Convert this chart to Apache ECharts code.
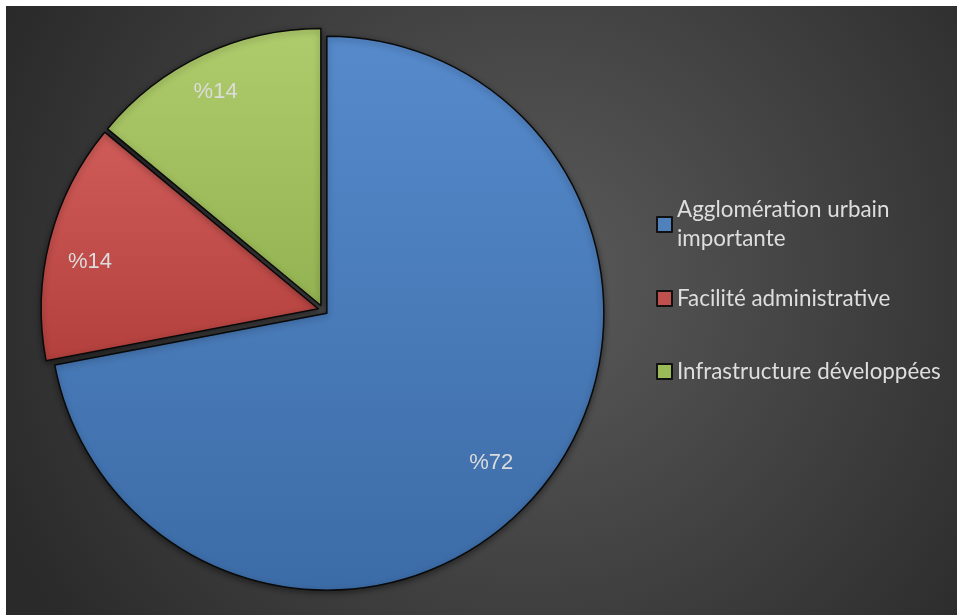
<!DOCTYPE html>
<html style="height: 100%">
<head>
    <meta charset="utf-8">
</head>
<body style="height: 100%; margin: 0; background-color: #fff;">
<div id="container" style="position: absolute; left: 6px; top: 6px; width: 951px; height: 609px;"></div>
<script type="text/javascript" src="https://cdn.jsdelivr.net/npm/echarts@6/dist/echarts.min.js"></script>
<script type="text/javascript">
var categories = ['Agglomération urbain\nimportante', 'Facilité administrative', 'Infrastructure développées'];
var shares = [72, 14, 14];

var sliceColors = [
    ['#568acb', '#3c6ca7'],
    ['#d05c59', '#b3403d'],
    ['#afcc6c', '#93b251']
];
var legendIcons = ['#4f81bd', '#c0504d', '#9bbb59'];
// nudges so each percent sits where the original put it
var labelPads = [[0, 34, 0, 0], [24, 0, 0, 0], [0, 10, 16, 0]];

var chart = echarts.init(document.getElementById('container'));

var slices = [];
var labelSlices = [];
for (var i = 0; i < categories.length; i++) {
    slices.push({
        name: categories[i],
        value: shares[i],
        selected: true,
        itemStyle: {
            color: {
                type: 'linear', x: 0, y: 0, x2: 0, y2: 1,
                colorStops: [
                    { offset: 0, color: sliceColors[i][0] },
                    { offset: 1, color: sliceColors[i][1] }
                ]
            }
        }
    });
    var lbl = { padding: labelPads[i] };
    if (i === 1) {
        lbl = { formatter: '\n%{c}', lineHeight: 24 };
    }
    labelSlices.push({
        name: categories[i],
        value: shares[i],
        selected: true,
        label: lbl
    });
}

// one legend per item so the icon sits on the first text line
var legendTops = [175, 278, 351];
var legends = [];
for (var j = 0; j < categories.length; j++) {
    legends.push({
        orient: 'vertical',
        left: 650,
        top: legendTops[j],
        padding: 0,
        itemWidth: 15,
        itemHeight: 15,
        icon: 'rect',
        selectedMode: false,
        data: [{
            name: categories[j],
            itemStyle: { color: legendIcons[j], borderColor: '#111', borderWidth: 2 }
        }],
        textStyle: {
            color: '#dedede',
            fontFamily: 'Lato',
            fontSize: 22.4,
            lineHeight: 29,
            padding: j === 0 ? [29, 0, 0, 0] : 0
        }
    });
}

var option = {
    animation: false,
    backgroundColor: {
        type: 'radial', x: 0.55, y: 0.45, r: 0.95,
        colorStops: [
            { offset: 0, color: '#5b5b5b' },
            { offset: 1, color: '#2a2a2a' }
        ]
    },
    legend: legends,
    series: [{
        type: 'pie',
        center: [317, 304],
        radius: [0, 277],
        startAngle: 90,
        selectedMode: 'multiple',
        selectedOffset: 5,
        label: { show: false },
        labelLine: { show: false },
        emphasis: { scale: false },
        itemStyle: {
            borderColor: '#0a0a0a',
            borderWidth: 1.5,
            shadowBlur: 6,
            shadowColor: 'rgba(0,0,0,0.45)',
            shadowOffsetY: 2
        },
        data: slices
    }, {
        type: 'pie',
        silent: true,
        center: [317, 304],
        radius: [188, 277],
        startAngle: 90,
        selectedMode: 'multiple',
        selectedOffset: 5,
        itemStyle: { color: 'rgba(0,0,0,0)', borderWidth: 0 },
        label: {
            show: true,
            position: 'inside',
            formatter: '%{c}',
            color: '#dcdcdc',
            fontFamily: 'Liberation Sans',
            fontSize: 22
        },
        labelLine: { show: false },
        data: labelSlices
    }]
};

chart.setOption(option);
</script>
</body>
</html>
